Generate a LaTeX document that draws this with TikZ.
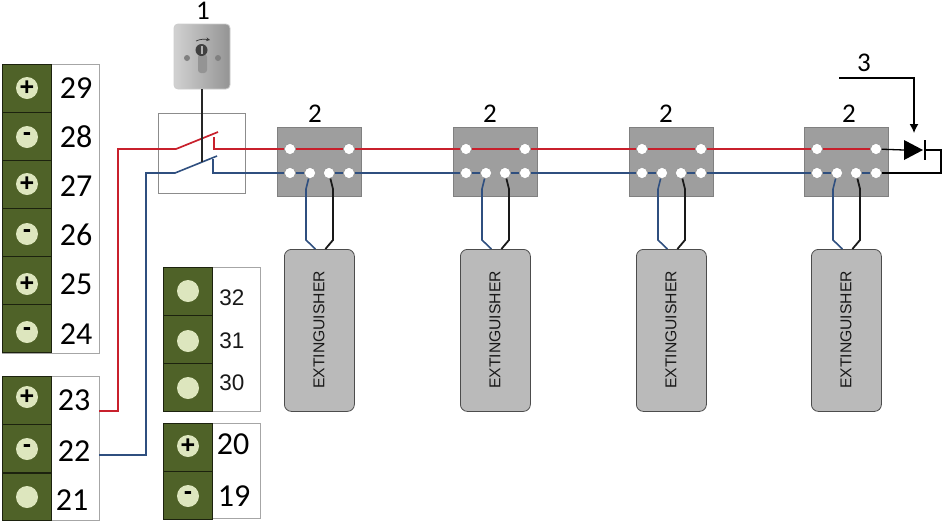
\documentclass[tikz,border=0pt]{standalone}
\usepackage{fontspec}
\setmainfont{Carlito}
\newfontfamily\arialfont{Liberation Sans}
\usetikzlibrary{arrows.meta}
\definecolor{termgreen}{HTML}{4F6228}
\definecolor{termlight}{HTML}{DDE6BE}
\definecolor{redwire}{HTML}{C8202C}
\definecolor{bluewire}{HTML}{2F4F7F}
\tikzset{
    greencell/.style={draw=black!65!termgreen,fill=termgreen,line width=0.7pt},
    whitecell/.style={draw=black!35,fill=white,line width=1pt},
    terminal/.style={circle,fill=termlight,inner sep=0pt,minimum size=22pt,font=\arialfont\bfseries\fontsize{25}{25}\selectfont,text=black},
    numlabel/.style={font=\fontsize{32}{33}\selectfont,inner sep=0pt},
    smalllabel/.style={font=\arialfont\fontsize{22.5}{24}\selectfont,inner sep=0pt,text=black!90},
    toplabel/.style={font=\fontsize{27}{28}\selectfont,inner sep=0pt},
    hole/.style={circle,draw=black!45,fill=white,inner sep=0pt,minimum size=11pt,line width=0.4pt},
    junction/.style={draw=black!50,fill=black!38,line width=0.8pt,minimum width=84pt,minimum height=69pt,inner sep=0pt},
    extbox/.style={draw=black!70,fill=black!27,rounded corners=7pt,line width=0.8pt,minimum width=70pt,minimum height=162pt,inner sep=0pt},
    redline/.style={draw=redwire,line width=1.7pt},
    blueline/.style={draw=bluewire,line width=1.6pt},
    blackline/.style={draw=black!90,line width=1.8pt}
}
\begin{document}
\begin{tikzpicture}[x=1pt,y=-1pt]
            \useasboundingbox (0,0) rectangle (944,523);
            % terminal blocks
            \foreach \bl/\xl/\ytop/\yend in {a/2/64/353,b/2/376/520,c/163/267/411,d/163/423/518}
                \node[whitecell,minimum width=97pt,minimum height={\yend pt-\ytop pt},inner sep=0pt,anchor=north west] (block\bl) at (\xl,\ytop) {};
            \foreach \lab/\xl/\ytop/\ycirc/\xnum/\ynum/\sgn in {29/2/64/88/76/88/+,28/2/112/137/76/137/-,27/2/160/184/76/186/+,26/2/208/234/76/235/-,25/2/256/284/76/284/+,24/2/304/332/76/334/-,23/2/376/397/74/400/+,22/2/424/449/74/451/-,20/163/423/446/233/444/+,19/163/471/496/234/496/-}{
                \draw[greencell] (\xl,\ytop) rectangle ++(49,48);
                \node[terminal] (term\lab) at ({\xl+25},\ycirc) {\sgn};
                \node[numlabel] (num\lab) at (\xnum,\ynum) {\lab};
            }
            \draw[greencell] (2,473) rectangle ++(49,47);
            \node[terminal] (term21) at (27,497) {};
            \node[numlabel] (num21) at (72,500) {21};
            \foreach \lab/\ytop/\ycirc/\ynum in {32/267/291/298,31/315/341/341,30/363/388/383}{
                \draw[greencell] (163,\ytop) rectangle ++(49,48);
                \node[terminal] (term\lab) at (188,\ycirc) {};
                \node[smalllabel] (num\lab) at (232,\ynum) {\lab};
            }
            % key switch
            \node[rounded corners=4pt,draw=black!20,line width=0.8pt,left color=black!18,right color=black!42,minimum width=56pt,minimum height=65pt,inner sep=0pt] (key) at (202,56.5) {};
            \draw[->,>=stealth,black!80,line width=0.7pt] (196,41) .. controls (200,39) and (205,39) .. (210,40);
            \fill[black!42,rounded corners=3pt] (198,54) rectangle (207,73);
            \fill[black!75] (201.5,50) circle [radius=6];
            \fill[black!30] (200.5,46) rectangle (202.5,54);
            \fill[black!50] (187,58) circle [radius=3];
            \fill[black!50] (218,58) circle [radius=3];
            \node[toplabel] (lab1) at (203,11) {1};
            % switch
            \node[draw=black!45,line width=0.8pt,minimum width=87pt,minimum height=80pt,inner sep=0pt] (switch) at (201.5,153) {};
            \coordinate (red23) at (99,411);
            \coordinate (blue22) at (99,455);
            \coordinate (redpole) at (176,149);
            \coordinate (redtip) at (218,132);
            \coordinate (redstop) at (214,137);
            \coordinate (bluepole) at (175,173);
            \coordinate (bluetip) at (217,156);
            \coordinate (bluestop) at (213,159);
            \coordinate (shaftend) at (202,162);
            % junction boxes and extinguishers
            \foreach \bn/\xl/\xtop in {a/277/315,b/453/490,c/629/666,d/804/849}{
                \node[junction,anchor=north west] (box\bn) at (\xl,127) {};
                \node[toplabel] (lab\bn) at (\xtop,114) {2};
                \node[hole] (top\bn1) at ({\xl+13},149) {};
                \node[hole] (top\bn2) at ({\xl+72},149) {};
                \node[hole] (bot\bn1) at ({\xl+13},173) {};
                \node[hole] (bot\bn2) at ({\xl+33},173) {};
                \node[hole] (bot\bn3) at ({\xl+52},173) {};
                \node[hole] (bot\bn4) at ({\xl+72},173) {};
                \node[extbox,anchor=north west] (ext\bn) at ({\xl+7},249) {};
                \node[font=\arialfont\fontsize{15.7}{16}\selectfont,rotate=90,inner sep=0pt,text=black!90] (name\bn) at ({\xl+42},330) {EXTINGUISHER};
                \draw[redline] (top\bn1) -- (top\bn2);
                \draw[blueline] (bot\bn1) -- (bot\bn2);
                \draw[blueline] (bot\bn3) -- (bot\bn4);
                \draw[blueline] (bot\bn2) -- ++(-4,16) -- ++(0,51) -- ([xshift=-4pt]ext\bn.north);
                \draw[blackline] (bot\bn3) -- ++(4,16) -- ++(0,51) -- ([xshift=6pt]ext\bn.north);
            }
            % wiring
            \draw[redline] (red23) -- ++(19,0) |- (redpole) -- (redtip);
            \draw[blueline] (blue22) -- ++(47,0) |- (bluepole) -- (bluetip);
            \draw[redline] (redstop) |- (topa1);
            \draw[blueline] (bluestop) |- (bota1);
            \draw[redline] (topa2) -- (topb1);
            \draw[redline] (topb2) -- (topc1);
            \draw[redline] (topc2) -- (topd1);
            \draw[blueline] (bota4) -- (botb1);
            \draw[blueline] (botb4) -- (botc1);
            \draw[blueline] (botc4) -- (botd1);
            \draw[black!85,line width=2pt] (key.south) -- (shaftend);
            % diode
            \coordinate (anode) at (904,150);
            \coordinate (cathode) at (925,150);
            \fill (904,140) -- (923,150) -- (904,160) -- cycle;
            \draw[line width=1.4pt] (925,140) -- (925,160);
            \draw[line width=1.3pt] (topd2) -- (anode);
            \draw[line width=1.3pt] (cathode) -- ++(16,0) |- (botd4);
            \node[toplabel] (lab3) at (864,63) {3};
            \coordinate (arrow3) at (839,78);
            \coordinate (tip3) at (914,133);
            \draw[-{Latex[length=9pt,width=9pt]},line width=1.3pt] (arrow3) -| (tip3);
        \end{tikzpicture}
\end{document}
